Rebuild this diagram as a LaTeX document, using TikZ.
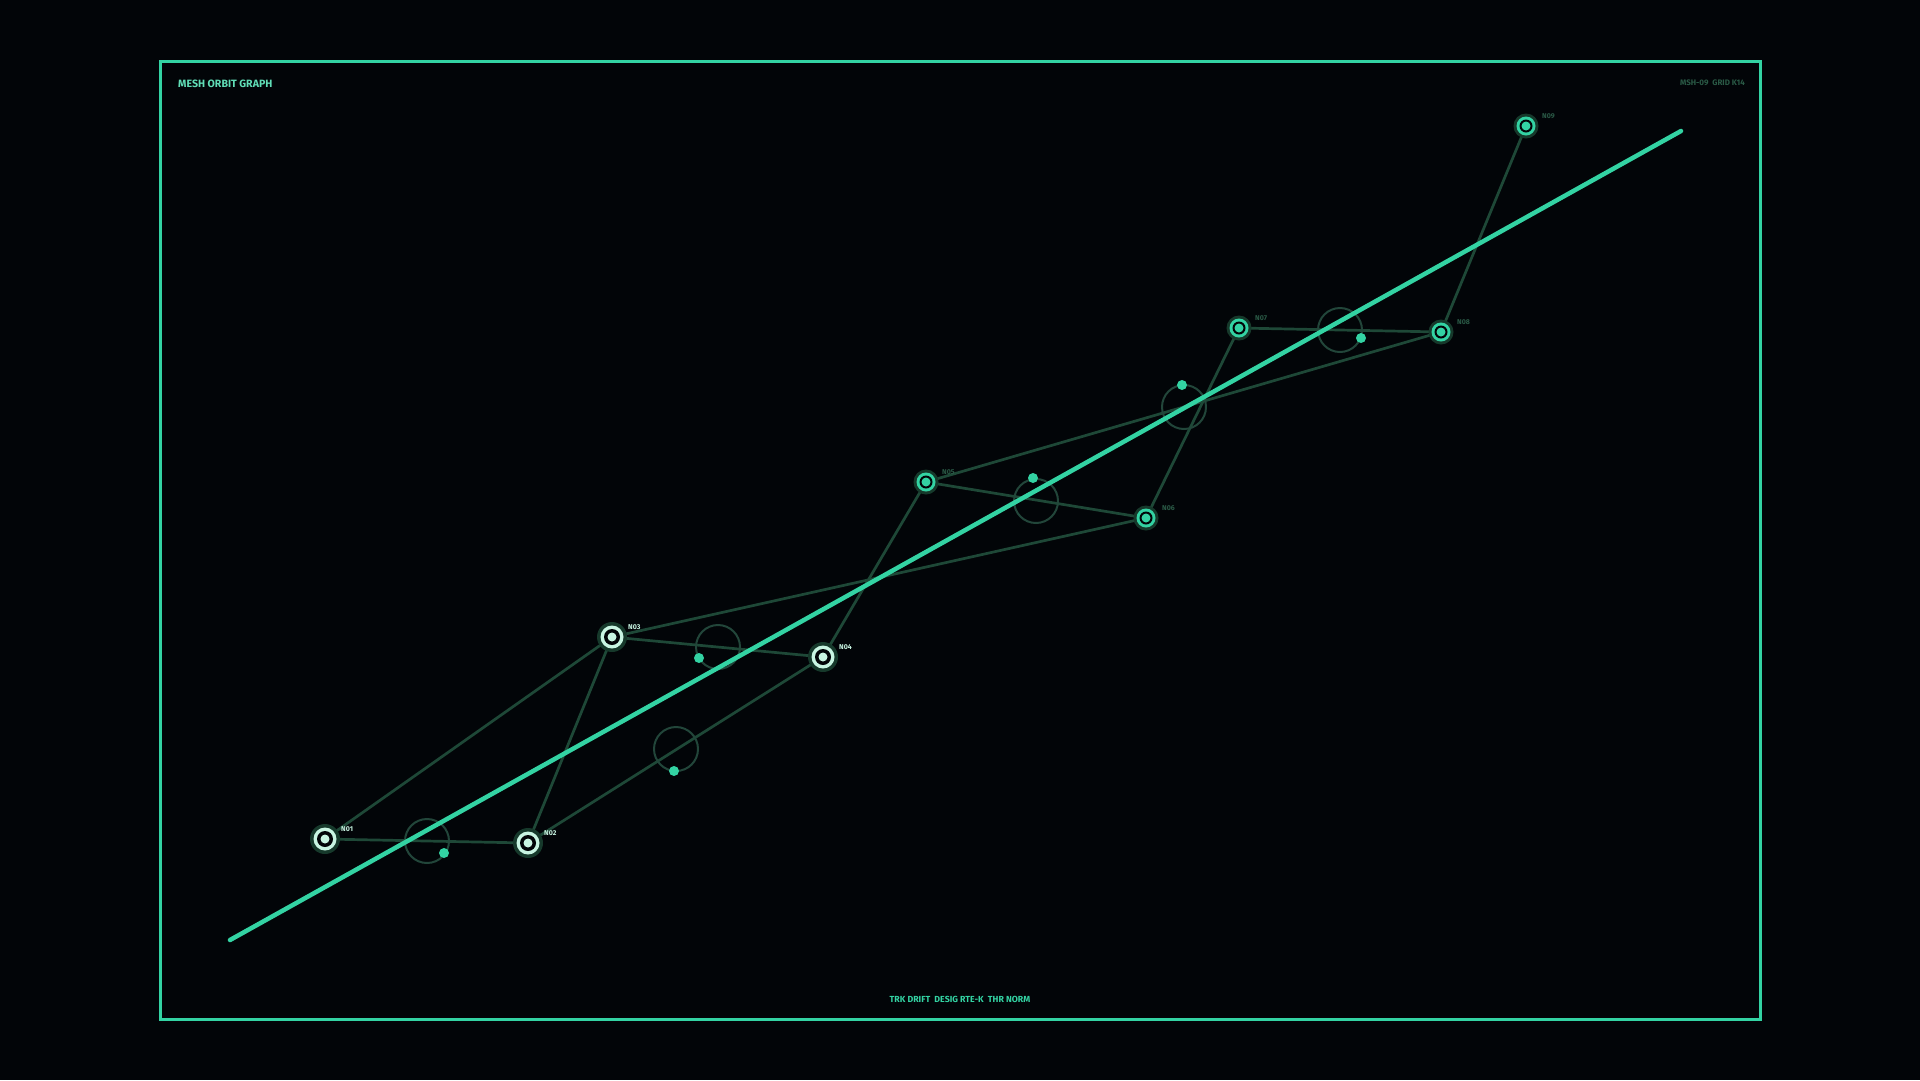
\documentclass[tikz,border=0pt]{standalone}
\usepackage{fontspec}
\setsansfont{Fira Sans}
\definecolor{bgc}{HTML}{020508}
\definecolor{teal}{HTML}{33D3A3}
\definecolor{edgec}{HTML}{1E4837}
\definecolor{orbc}{HTML}{22463A}
\definecolor{haloc}{HTML}{16392B}
\definecolor{pale}{HTML}{C8F5E2}
\definecolor{dimlab}{HTML}{2A5A46}
\tikzset{
  edge/.style={draw=edgec,line width=2.7pt},
  orbit/.style={circle,draw=orbc,line width=2pt,minimum size=44pt,inner sep=0pt},
  odot/.style={circle,fill=teal,minimum size=10pt,inner sep=0pt},
  mainline/.style={draw=teal,line width=4.5pt,line cap=round},
  lab/.style={font=\sffamily\bfseries\fontsize{7}{8}\selectfont,anchor=west,inner sep=0pt},
}
\newcommand{\bignode}[2]{%
  \fill[haloc] (#1) circle (15pt);
  \fill[pale] (#1) circle (11.5pt);
  \fill[bgc] (#1) circle (8pt);
  \fill[pale] (#1) circle (4.5pt);
  \node[lab,text=pale] at ($(#1)+(16,-10)$) {#2};}
\newcommand{\smallnode}[2]{%
  \fill[haloc] (#1) circle (12.5pt);
  \fill[teal] (#1) circle (9.5pt);
  \fill[bgc] (#1) circle (6.5pt);
  \fill[teal] (#1) circle (4.5pt);
  \node[lab,text=dimlab] at ($(#1)+(16,-10)$) {#2};}
\usetikzlibrary{calc}
\begin{document}
\begin{tikzpicture}[x=1pt,y=-1pt]
\fill[bgc] (0,0) rectangle (1920,1080);
\useasboundingbox (0,0) rectangle (1920,1080);
\draw[teal,line width=3pt] (160,61) rectangle (1760,1019);
\node[font=\sffamily\bfseries\fontsize{10.6}{12}\selectfont,text=teal!70!pale,anchor=west,inner sep=0pt] (title) at (178,84) {MESH ORBIT GRAPH};
\node[font=\sffamily\bfseries\fontsize{8}{9}\selectfont,text=dimlab,anchor=east,inner sep=0pt] (tag) at (1745,83) {MSH-09\ \ GRID K14};
\node[font=\sffamily\bfseries\fontsize{8.8}{10}\selectfont,text=teal,inner sep=0pt] (foot) at (960,999) {TRK DRIFT\ \ DESIG RTE-K\ \ THR NORM};
% node positions
\coordinate (n1) at (325,839);
\coordinate (n2) at (528,843);
\coordinate (n3) at (612,637);
\coordinate (n4) at (823,657);
\coordinate (n5) at (926,482);
\coordinate (n6) at (1146,518);
\coordinate (n7) at (1239,328);
\coordinate (n8) at (1441,332);
\coordinate (n9) at (1526,126);
\coordinate (ls) at (230,940);
\coordinate (le) at (1681,131);
% edges
\draw[edge] (n1) -- (n2);
\draw[edge] (n1) -- (n3);
\draw[edge] (n2) -- (n3);
\draw[edge] (n2) -- (n4);
\draw[edge] (n3) -- (n4);
\draw[edge] (n3) -- (n6);
\draw[edge] (n4) -- (n5);
\draw[edge] (n5) -- (n6);
\draw[edge] (n5) -- (n8);
\draw[edge] (n6) -- (n7);
\draw[edge] (n7) -- (n8);
\draw[edge] (n8) -- (n9);
% orbits
\node[orbit] (o1) at (427,841) {};
\node[orbit] (o2) at (718,647) {};
\node[orbit] (o3) at (676,749) {};
\node[orbit] (o4) at (1036,501) {};
\node[orbit] (o5) at (1184,407) {};
\node[orbit] (o6) at (1340,330) {};
% main line
\draw[mainline] (ls) -- (le);
% orbit dots
\node[odot] (d1) at (444,853) {};
\node[odot] (d2) at (699,658) {};
\node[odot] (d3) at (674,771) {};
\node[odot] (d4) at (1033,478) {};
\node[odot] (d5) at (1182,385) {};
\node[odot] (d6) at (1361,338) {};
% nodes
\bignode{n1}{N01}
\bignode{n2}{N02}
\bignode{n3}{N03}
\bignode{n4}{N04}
\smallnode{n5}{N05}
\smallnode{n6}{N06}
\smallnode{n7}{N07}
\smallnode{n8}{N08}
\smallnode{n9}{N09}
\end{tikzpicture}
\end{document}
